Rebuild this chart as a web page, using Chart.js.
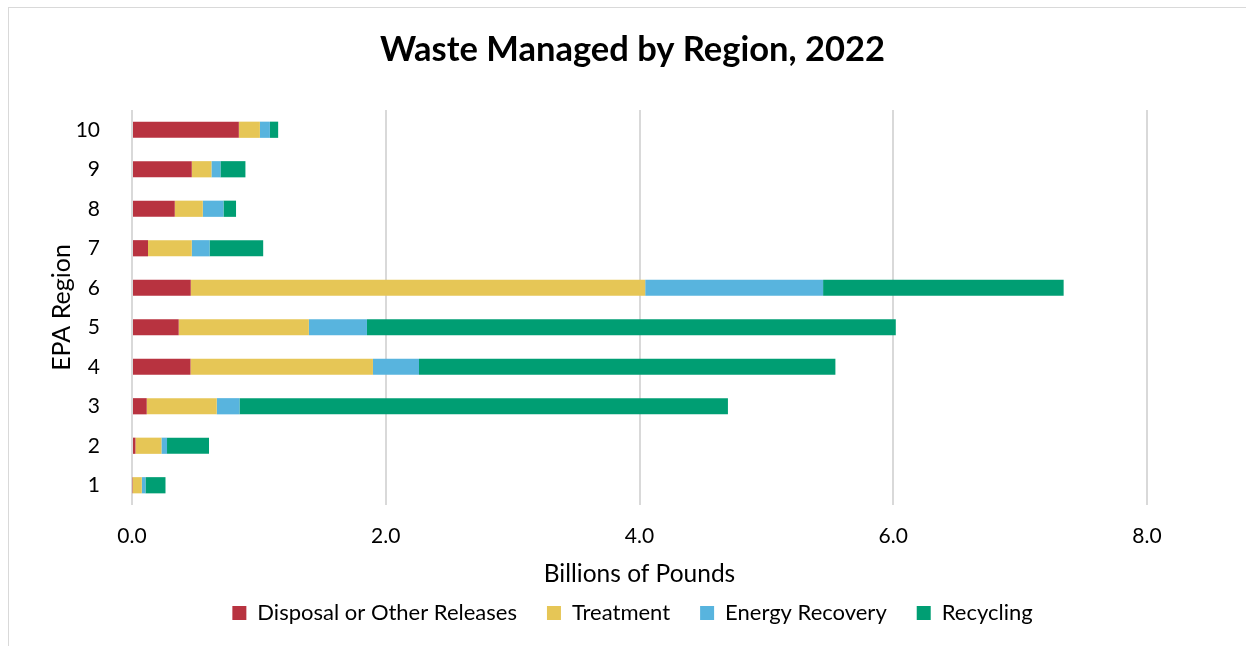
<!DOCTYPE html>
<html>
<head>
<meta charset="utf-8">
<script src="https://cdn.jsdelivr.net/npm/chart.js@4.4.1/dist/chart.umd.min.js"></script>
<style>
  html, body { margin: 0; padding: 0; background: #fff; }
  #wrap { position: relative; width: 1246px; height: 646px; overflow: hidden; }
  #frame { position: absolute; left: 8px; top: 7px; width: 1300px; height: 700px; border: 1px solid #d9d9d9; box-sizing: border-box; }
  canvas { position: absolute; left: 0; top: 0; }
</style>
</head>
<body>
<div id="wrap">
  <div id="frame"></div>
  <canvas id="wasteChart" width="1246" height="646"></canvas>
</div>
<script>
// EPA regions, top to bottom via reversed axis
const regions = ['1', '2', '3', '4', '5', '6', '7', '8', '9', '10'];

// billions of pounds
const disposal = [0.005, 0.027, 0.116, 0.461, 0.368, 0.463, 0.126, 0.337, 0.471, 0.842];
const treatment = [0.072, 0.205, 0.552, 1.438, 1.026, 3.582, 0.345, 0.221, 0.155, 0.166];
const energyRecovery = [0.029, 0.044, 0.179, 0.363, 0.458, 1.402, 0.140, 0.163, 0.071, 0.079];
const recycling = [0.158, 0.331, 3.850, 3.282, 4.168, 1.896, 0.423, 0.099, 0.197, 0.065];

const FONT = 'Lato, "Liberation Sans", sans-serif';

const ctx = document.getElementById('wasteChart');
new Chart(ctx, {
  type: 'bar',
  data: {
    labels: regions,
    datasets: [
      { label: 'Disposal or Other Releases', data: disposal, backgroundColor: 'rgb(184, 51, 64)' },
      { label: 'Treatment', data: treatment, backgroundColor: 'rgb(230, 198, 86)' },
      { label: 'Energy Recovery', data: energyRecovery, backgroundColor: 'rgb(88, 180, 222)' },
      { label: 'Recycling', data: recycling, backgroundColor: 'rgb(0, 158, 115)' }
    ]
  },
  options: {
    indexAxis: 'y',
    responsive: false,
    animation: false,
    categoryPercentage: 1,
    barPercentage: 0.41,
    layout: { padding: { left: 8, right: -11, top: 0, bottom: 14 } },
    plugins: {
      title: {
        display: true,
        text: 'Waste Managed by Region, 2022',
        color: '#000',
        font: { family: FONT, size: 34.5, weight: 'bold', lineHeight: 1.2 },
        padding: { top: 29.3, bottom: 39.3 }
      },
      legend: {
        position: 'bottom',
        maxHeight: 60,
        labels: {
          color: '#000',
          font: { family: FONT, size: 22 },
          boxWidth: 14,
          boxHeight: 14,
          padding: 30
        }
      },
      tooltip: { enabled: false }
    },
    scales: {
      x: {
        stacked: true,
        min: 0,
        max: 8,
        border: { display: false },
        grid: { color: '#d9d9d9', lineWidth: 2, drawTicks: false },
        ticks: {
          stepSize: 2,
          padding: 18.5,
          color: '#000',
          font: { family: FONT, size: 21 },
          callback: v => v.toFixed(1)
        },
        title: {
          display: true,
          text: 'Billions of Pounds',
          color: '#000',
          font: { family: FONT, size: 24.5 },
          padding: { top: 0, bottom: -17.2 }
        },
        afterFit(scale) { scale.height = 67; }
      },
      y: {
        stacked: true,
        reverse: true,
        border: { display: false },
        grid: { display: false },
        ticks: {
          padding: 24,
          color: '#000',
          font: { family: FONT, size: 21 }
        },
        title: {
          display: true,
          text: 'EPA Region',
          color: '#000',
          font: { family: FONT, size: 25 },
          padding: { top: 39, bottom: 0 }
        },
        afterFit(scale) { scale.width = 124; }
      },
      // empty right-hand spacer so the title and legend centre on the full frame
      spacer: {
        type: 'linear',
        position: 'right',
        display: true,
        border: { display: false },
        grid: { display: false },
        ticks: { display: false },
        afterFit(scale) { scale.width = 110; }
      }
    }
  }
});
</script>
</body>
</html>
